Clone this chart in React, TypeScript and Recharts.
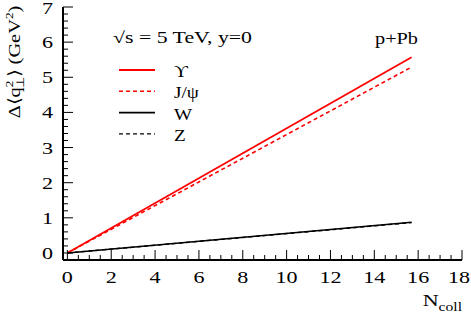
import React from 'react';
import { LineChart, Line, XAxis, YAxis, Legend } from 'recharts';

// values
const nColl = [0, 15.7];
const upsilon = [0, 5.57];
const jpsi = [0, 5.29];
const wBoson = [0, 0.875];
const zBoson = [0, 0.865];

const xTicks = Array.from({ length: 37 }, (_, i) => i * 0.5);
const yTicks = Array.from({ length: 36 }, (_, i) => (i * 2) / 10);

const series = [
  { key: 'ups', name: 'ϒ', color: '#ff0000', dash: undefined, width: 1.8 },
  { key: 'jpsi', name: 'J/ψ', color: '#ff0000', dash: '4 3', width: 1.6 },
  { key: 'w', name: 'W', color: '#000000', dash: undefined, width: 1.6 },
  { key: 'z', name: 'Z', color: '#000000', dash: '4 3', width: 1.4 },
];

const data = nColl.map((n, i) => ({
  n,
  ups: upsilon[i],
  jpsi: jpsi[i],
  w: wBoson[i],
  z: zBoson[i],
}));

const FONT = '"Liberation Serif", "Times New Roman", serif';
const SX = 1.3; // the reference glyphs are wider than Times

const Txt = ({ x, y, size = 17, anchor = 'start', rotate = 0, sx = SX, len, children }: any) => (
  <text
    transform={`translate(${x} ${y}) rotate(${rotate}) scale(${len ? 1 : sx} 1)`}
    textAnchor={anchor}
    fontSize={size}
    fontFamily={FONT}
    fill="#000"
    textLength={len}
    lengthAdjust={len ? 'spacingAndGlyphs' : undefined}
  >
    {children}
  </text>
);

const isWhole = (v: number, step: number) => Math.abs(v / step - Math.round(v / step)) < 1e-6;

const XTick = (props: any) => {
  const { x, y, payload } = props;
  const major = isWhole(payload.value, 2);
  return (
    <g>
      <line x1={x} y1={y} x2={x} y2={y - (major ? 10 : 5)} stroke="#000" strokeWidth={1} />
      {major && (
        <Txt x={Math.min(x, 459)} y={y + 23} anchor="middle">
          {Math.round(payload.value)}
        </Txt>
      )}
    </g>
  );
};

const YTick = (props: any) => {
  const { x, y, payload } = props;
  const major = isWhole(payload.value, 1);
  return (
    <g>
      <line x1={x} y1={y} x2={x + (major ? 10 : 5)} y2={y} stroke="#000" strokeWidth={1} />
      {major && (
        <Txt x={x - 10} y={Math.max(y + 6, 13.5)} anchor="end">
          {Math.round(payload.value)}
        </Txt>
      )}
    </g>
  );
};

const LegendBox = () => (
  <svg width={130} height={90}>
    {series.map((s, i) => (
      <g key={s.key}>
        <line
          x1={9}
          x2={45}
          y1={12 + i * 21.3}
          y2={12 + i * 21.3}
          stroke={s.color}
          strokeWidth={s.width}
          strokeDasharray={s.dash}
        />
        <Txt x={64} y={12 + i * 21.3 + 7} size={16} sx={1.2}>
          {s.name}
        </Txt>
      </g>
    ))}
  </svg>
);

export default function App() {
  return (
    <div style={{ position: 'absolute', left: 0, top: 0, background: '#fff' }}>
      <LineChart width={471} height={313} data={data} margin={{ top: 7, right: 9, left: 13, bottom: 23 }}>
        <XAxis
          xAxisId="b"
          dataKey="n"
          type="number"
          domain={[-0.2, 18]}
          allowDataOverflow
          ticks={xTicks}
          interval={0}
          height={30}
          tickSize={0}
          tickMargin={0}
          tickLine={false}
          axisLine={{ stroke: '#000', strokeWidth: 2 }}
          tick={<XTick />}
        />
        <XAxis
          xAxisId="t"
          orientation="top"
          dataKey="n"
          type="number"
          domain={[-0.2, 18]}
          allowDataOverflow
          height={0}
          tick={false}
          tickLine={false}
          axisLine={{ stroke: '#000', strokeWidth: 2 }}
        />
        <YAxis
          yAxisId="l"
          type="number"
          domain={[-0.2, 7]}
          allowDataOverflow
          ticks={yTicks}
          interval={0}
          width={50}
          tickSize={0}
          tickMargin={0}
          tickLine={false}
          axisLine={{ stroke: '#000', strokeWidth: 2 }}
          tick={<YTick />}
        />
        <YAxis
          yAxisId="r"
          orientation="right"
          type="number"
          domain={[-0.2, 7]}
          allowDataOverflow
          width={0}
          tick={false}
          tickLine={false}
          axisLine={{ stroke: '#000', strokeWidth: 2 }}
        />
        {series.map((s) => (
          <Line
            key={s.key}
            xAxisId="b"
            yAxisId="l"
            type="linear"
            dataKey={s.key}
            stroke={s.color}
            strokeWidth={s.width}
            strokeDasharray={s.dash}
            dot={false}
            activeDot={false}
            isAnimationActive={false}
          />
        ))}
        <Legend
          layout="vertical"
          align="center"
          verticalAlign="middle"
          content={() => <LegendBox />}
          wrapperStyle={{ position: 'absolute', left: 110, top: 58, width: 130, height: 90 }}
        />
        <Txt x={113} y={43} size={16} len={139}>
          √s = 5 TeV, y=0
        </Txt>
        <Txt x={375} y={44} size={16} len={43}>
          p+Pb
        </Txt>
        <Txt x={20} y={62} anchor="middle" rotate={-90} sx={1.2}>
          Δ⟨q<tspan dy={-7} fontSize={11}>2</tspan>
          <tspan dx={-6} dy={11} fontSize={11}>⊥</tspan>
          <tspan dy={-4}>⟩ (GeV</tspan>
          <tspan dy={-7} fontSize={11}>2</tspan>
          <tspan dy={7}>)</tspan>
        </Txt>
        <Txt x={462} y={306} anchor="end">
          N<tspan dy={5} fontSize={12}>coll</tspan>
        </Txt>
      </LineChart>
    </div>
  );
}
